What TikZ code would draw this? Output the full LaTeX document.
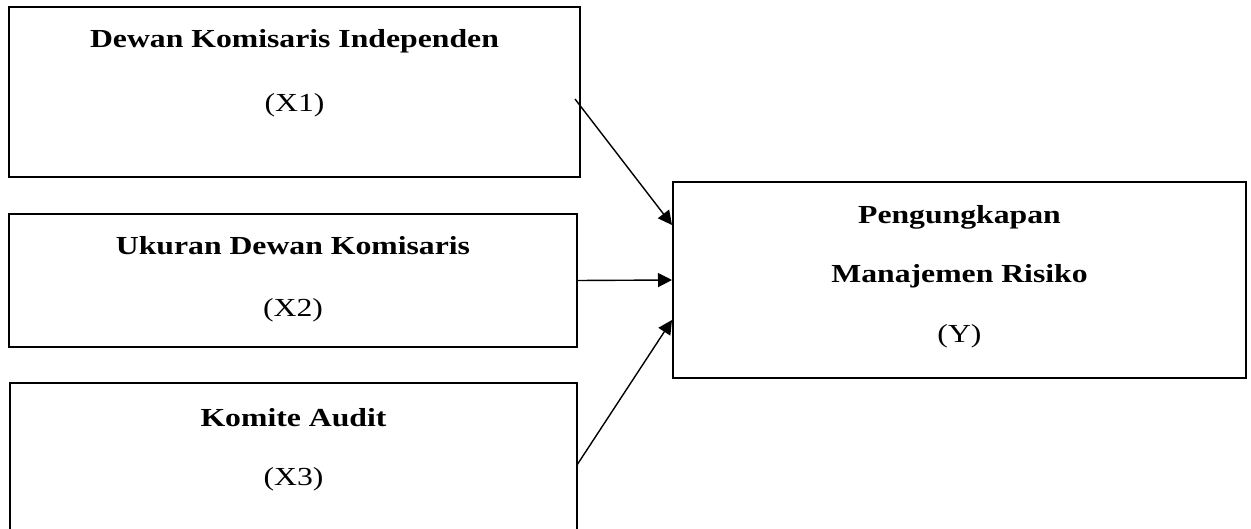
\documentclass[tikz,border=0pt]{standalone}
\usepackage{fontspec}
\setmainfont{Liberation Serif}[FakeStretch=1.22]
\usetikzlibrary{arrows.meta,calc}
\begin{document}
\begin{tikzpicture}[x=1pt,y=-1pt,
  boxnode/.style={draw=black,line width=2pt,rectangle,inner sep=0pt},
  title/.style={anchor=base,inner sep=0pt,font=\fontsize{26}{30}\selectfont\bfseries},
  code/.style={anchor=base,inner sep=0pt,font=\fontsize{26}{30}\selectfont},
  link/.style={line width=1.4pt,-{Triangle[length=14pt,width=14pt]}}]
\useasboundingbox (0,0) rectangle (1251,529);
\node[boxnode,minimum width=571pt,minimum height=170pt] (x1) at (294.5,92) {};
\node[boxnode,minimum width=568pt,minimum height=133pt] (x2) at (293,280.5) {};
\node[boxnode,minimum width=567pt,minimum height=157pt] (x3) at (293.5,461.5) {};
\node[boxnode,minimum width=573pt,minimum height=196pt] (y) at (959.5,280) {};
\node[title] (t1) at (294.5,48) {Dewan Komisaris Independen};
\node[code] (c1) at (294.5,112) {(X1)};
\node[title] (t2) at (293,255) {Ukuran Dewan Komisaris};
\node[code] (c2) at (293,317) {(X2)};
\node[title] (t3) at (293.5,427) {Komite Audit};
\node[code] (c3) at (293.5,485) {(X3)};
\node[title] (ty1) at (959.5,224) {Pengungkapan};
\node[title] (ty2) at (959.5,283) {Manajemen Risiko};
\node[code] (cy) at (959.5,343) {(Y)};
\coordinate (s1) at (575,99);
\coordinate (s3) at (577,465);
\draw[link] (s1) -- ($(y.west)+(0,-55)$);
\draw[link] (x2.east) -- (y.west);
\draw[link] (s3) -- ($(y.west)+(0,40)$);
\end{tikzpicture}
\end{document}
